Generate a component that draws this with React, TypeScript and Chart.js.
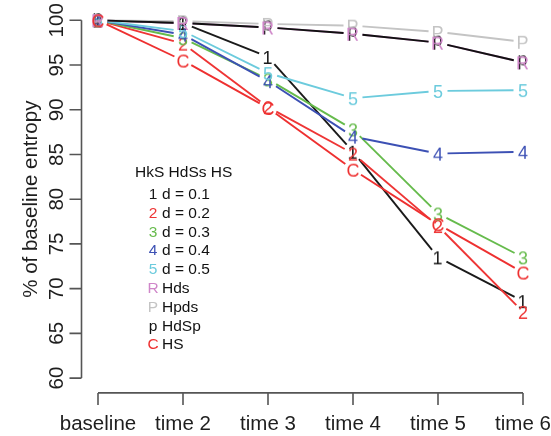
import React, { useEffect, useRef } from "react";
import { Chart, registerables } from "chart.js";

Chart.register(...registerables);

const categories = ["baseline", "time 2", "time 3", "time 4", "time 5", "time 6"];
const yTicks = [60, 65, 70, 75, 80, 85, 90, 95, 100];
const yTitle = "% of baseline entropy";
const legendTitle = "HkS HdSs HS";

const seriesSymbols = ["1", "2", "3", "4", "5", "R", "P", "p", "C"];
const seriesNames = ["d = 0.1", "d = 0.2", "d = 0.3", "d = 0.4", "d = 0.5", "Hds", "Hpds", "HdSp", "HS"];
const seriesColors = ["#1a1a1a", "#ee3535", "#66bb4c", "#3c50b4", "#6ccbdd", "#cf86c9", "#c4c4c4", "#111111", "#ee3030"];

const d01 = [100, 99.7, 95.9, 85.3, 73.5, 68.6];
const d02 = [100, 97.4, 90.3, 85.1, 77.0, 67.4];
const d03 = [100, 98.0, 93.4, 87.8, 78.4, 73.5];
const d04 = [100, 98.4, 93.2, 87.0, 85.1, 85.3];
const d05 = [100, 98.8, 94.1, 91.3, 92.1, 92.2];
const hds = [100, 99.7, 99.2, 98.5, 97.5, 95.3];
const hpds = [100, 99.9, 99.6, 99.4, 98.7, 97.6];
const hdsp = [100, 99.7, 99.2, 98.5, 97.5, 95.3];
const hs = [100, 95.5, 90.2, 83.3, 77.2, 71.8];

const seriesValues = [d01, d02, d03, d04, d05, hds, hpds, hdsp, hs];
// order in which the point characters are stamped (p under R)
const glyphDrawOrder = [0, 1, 2, 3, 4, 7, 6, 5, 8];

const FONT = '"Liberation Sans", Arial, Helvetica, sans-serif';
const AXIS_FONT_SIZE = 20.5;
const GLYPH_SIZE = 18;
const LEGEND_FONT_SIZE = 15.5;
const AXIS_COLOR = "#555555";
const TEXT_COLOR = "#1e1e1e";

function makeGlyph(ch: string, color: string, size: number): HTMLCanvasElement {
  const c = document.createElement("canvas");
  const w = Math.ceil(size * 1.2);
  const h = Math.ceil(size * 1.4);
  c.width = w;
  c.height = h;
  const ctx = c.getContext("2d")!;
  ctx.font = `${size}px ${FONT}`;
  ctx.fillStyle = color;
  ctx.textAlign = "left";
  ctx.textBaseline = "alphabetic";
  const m = ctx.measureText(ch);
  const left = m.actualBoundingBoxLeft;
  const right = m.actualBoundingBoxRight;
  const asc = m.actualBoundingBoxAscent;
  const desc = m.actualBoundingBoxDescent;
  const x = w / 2 - (right - left) / 2;
  const y = h / 2 + (asc - desc) / 2;
  ctx.fillText(ch, x, y);
  return c;
}

const gapLinePlugin = {
  id: "gapLines",
  beforeDatasetsDraw(chart: any) {
    const ctx = chart.ctx;
    const gap = 9.5;
    ctx.save();
    ctx.lineWidth = 1.9;
    ctx.lineCap = "butt";
    seriesValues.forEach((_, i) => {
      const pts = chart.getDatasetMeta(i).data;
      ctx.strokeStyle = seriesColors[i];
      for (let j = 0; j < pts.length - 1; j++) {
        const a = pts[j];
        const b = pts[j + 1];
        const dx = b.x - a.x;
        const dy = b.y - a.y;
        const len = Math.hypot(dx, dy);
        if (len <= 2 * gap) continue;
        const ux = dx / len;
        const uy = dy / len;
        ctx.beginPath();
        ctx.moveTo(a.x + ux * gap, a.y + uy * gap);
        ctx.lineTo(b.x - ux * gap, b.y - uy * gap);
        ctx.stroke();
      }
    });
    ctx.restore();
  },
};

const axesPlugin = {
  id: "rAxes",
  afterDraw(chart: any) {
    const ctx = chart.ctx;
    const xs = chart.scales.x;
    const ys = chart.scales.y;
    const area = chart.chartArea;
    ctx.save();
    ctx.strokeStyle = AXIS_COLOR;
    ctx.lineWidth = 1.6;
    const xAxisY = area.bottom + 0.5;
    ctx.beginPath();
    ctx.moveTo(xs.getPixelForValue(1), xAxisY);
    ctx.lineTo(xs.getPixelForValue(categories.length), xAxisY);
    categories.forEach((_, k) => {
      const px = xs.getPixelForValue(k + 1);
      ctx.moveTo(px, xAxisY);
      ctx.lineTo(px, xAxisY + 12);
    });
    ctx.stroke();
    const yAxisX = area.left + 0.5;
    ctx.beginPath();
    ctx.moveTo(yAxisX, ys.getPixelForValue(yTicks[0]));
    ctx.lineTo(yAxisX, ys.getPixelForValue(yTicks[yTicks.length - 1]));
    yTicks.forEach((t) => {
      const py = ys.getPixelForValue(t);
      ctx.moveTo(yAxisX, py);
      ctx.lineTo(yAxisX - 12, py);
    });
    ctx.stroke();

    ctx.fillStyle = TEXT_COLOR;
    ctx.font = `${AXIS_FONT_SIZE}px ${FONT}`;
    ctx.textAlign = "center";
    ctx.textBaseline = "alphabetic";
    categories.forEach((c, k) => {
      ctx.fillText(c, xs.getPixelForValue(k + 1), xAxisY + 37);
    });
    yTicks.forEach((t) => {
      const py = ys.getPixelForValue(t);
      ctx.save();
      ctx.translate(yAxisX - 19, py);
      ctx.rotate(-Math.PI / 2);
      ctx.fillText(String(t), 0, 0);
      ctx.restore();
    });
    ctx.save();
    ctx.translate(yAxisX - 45, (area.top + area.bottom) / 2);
    ctx.rotate(-Math.PI / 2);
    ctx.fillText(yTitle, 0, 0);
    ctx.restore();
    ctx.restore();
  },
};

const legendPlugin = {
  id: "rLegend",
  afterDraw(chart: any) {
    const ctx = chart.ctx;
    const left = 135;
    const top = 173;
    const rowH = 18.8;
    ctx.save();
    ctx.font = `${LEGEND_FONT_SIZE}px ${FONT}`;
    ctx.textBaseline = "middle";
    ctx.textAlign = "left";
    ctx.fillStyle = "#111111";
    ctx.fillText(legendTitle, left, top);
    seriesSymbols.forEach((s, i) => {
      const y = top + rowH * (i + 1) + 3;
      ctx.fillStyle = seriesColors[i];
      ctx.textAlign = "center";
      ctx.fillText(s, 153, y);
      ctx.fillStyle = "#111111";
      ctx.textAlign = "left";
      ctx.fillText(seriesNames[i], 162, y);
    });
    ctx.restore();
  },
};

export default function App() {
  const ref = useRef<HTMLCanvasElement>(null);
  useEffect(() => {
    document.body.style.margin = "0";
    const canvas = ref.current!;
    const n = seriesValues.length;
    const chart = new Chart(canvas, {
      type: "line",
      data: {
        datasets: seriesValues.map((vals, i) => ({
          label: seriesNames[i],
          data: vals.map((v, j) => ({ x: j + 1, y: v })),
          showLine: false,
          pointStyle: makeGlyph(seriesSymbols[i], seriesColors[i], GLYPH_SIZE),
          pointRadius: 5,
          borderColor: seriesColors[i],
          backgroundColor: seriesColors[i],
          order: n - glyphDrawOrder.indexOf(i),
        })),
      },
      options: {
        responsive: false,
        animation: false,
        devicePixelRatio: 1,
        events: [],
        layout: { padding: { left: 81, right: 11, top: 3.6, bottom: 43.6 } },
        scales: {
          x: { type: "linear", min: 0.8, max: 6.2, display: false },
          y: { type: "linear", min: 58.4, max: 101.6, display: false },
        },
        plugins: { legend: { display: false }, tooltip: { enabled: false } },
      },
      plugins: [gapLinePlugin, axesPlugin, legendPlugin],
    } as any);
    return () => chart.destroy();
  }, []);
  return (
    <div style={{ position: "fixed", left: 0, top: 0, width: 551, height: 436, background: "#fff" }}>
      <canvas ref={ref} width={551} height={436} style={{ display: "block", width: 551, height: 436 }} />
    </div>
  );
}
